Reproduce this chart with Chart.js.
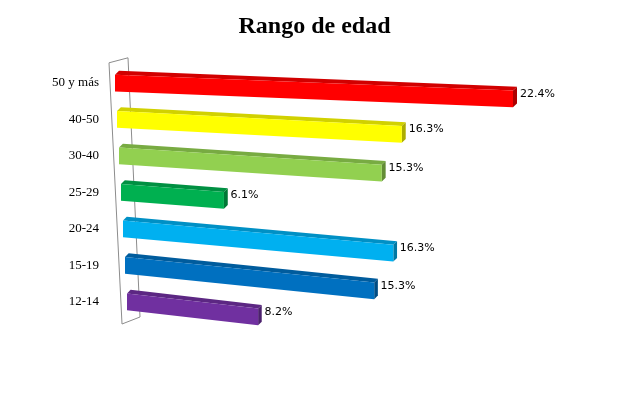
<!DOCTYPE html>
<html>
<head>
<meta charset="utf-8">
<script src="https://cdn.jsdelivr.net/npm/chart.js@4.4.0/dist/chart.umd.min.js"></script>
<style>
  html, body { margin: 0; padding: 0; background: #fff; }
  #wrap { width: 629px; height: 395px; }
</style>
</head>
<body>
<div id="wrap"><canvas id="edad" width="629" height="395"></canvas></div>
<script>
const labels = ['50 y más', '40-50', '30-40', '25-29', '20-24', '15-19', '12-14'];
const values = [22.4, 16.3, 15.3, 6.1, 16.3, 15.3, 8.2];
const colors = ['#FF0000', '#FFFF00', '#92D050', '#00B050', '#00B0F0', '#0070C0', '#7030A0'];

function shade(hex, f){
    const n = parseInt(hex.slice(1), 16);
    const r = Math.round(((n >> 16) & 255) * f);
    const g = Math.round(((n >> 8) & 255) * f);
    const b = Math.round((n & 255) * f);
    return `rgb(${r},${g},${b})`;
}

// fake 3D perspective: each bar gets its own skew, plus a top and side face
const persp = {
    id: 'persp',
    beforeDatasetsDraw(chart){
        const ctx = chart.ctx, a = chart.chartArea;
        ctx.save();
        ctx.strokeStyle = '#8c8c8c';
        ctx.lineWidth = 1;
        ctx.beginPath();
        ctx.moveTo(a.left - 6, a.top - 2);
        ctx.lineTo(a.left + 13, a.top - 7);
        ctx.lineTo(a.left + 25, a.bottom - 3);
        ctx.lineTo(a.left + 7, a.bottom + 4);
        ctx.closePath();
        ctx.stroke();
        ctx.restore();
    },
    beforeDatasetDraw(chart, args){
        const ctx = chart.ctx;
        const x0 = chart.scales.x.getPixelForValue(0);
        const n = args.meta.data.length;
        args.meta.data.forEach((bar, i) => {
            const t = i / (n - 1);
            const sx = 1 - 0.1 * t, dx = 12 * t, k = 0.04 + 0.075 * t;
            const e = x0 + dx - sx * x0, f = -k * sx * x0;
            const p = bar.getProps(['x', 'y', 'height'], true);
            const top = p.y - p.height / 2, bot = p.y + p.height / 2;
            const d = 4;
            ctx.save();
            ctx.transform(sx, k * sx, 0, 1, e, f);
            ctx.fillStyle = shade(colors[i], 0.82);
            ctx.beginPath();
            ctx.moveTo(x0, top);
            ctx.lineTo(x0 + d, top - d);
            ctx.lineTo(p.x + d, top - d);
            ctx.lineTo(p.x, top);
            ctx.closePath();
            ctx.fill();
            ctx.fillStyle = shade(colors[i], 0.68);
            ctx.beginPath();
            ctx.moveTo(p.x, top);
            ctx.lineTo(p.x + d, top - d);
            ctx.lineTo(p.x + d, bot - d);
            ctx.lineTo(p.x, bot);
            ctx.closePath();
            ctx.fill();
            bar.draw(ctx, chart.chartArea);
            ctx.restore();
            // value label at the end of the bar
            const lx = p.x + d + 3, ly = top;
            const X = sx * lx + e, Y = k * sx * lx + ly + f;
            ctx.save();
            ctx.fillStyle = '#000';
            ctx.font = '11px "DejaVu Sans", Verdana, sans-serif';
            ctx.textAlign = 'left';
            ctx.textBaseline = 'middle';
            ctx.fillText(values[i].toFixed(1) + '%', X, Y + 3);
            ctx.restore();
        });
        return false;
    }
};

new Chart(document.getElementById('edad'), {
    type: 'bar',
    data: {
        labels: labels,
        datasets: [{
            data: values,
            backgroundColor: colors,
            borderWidth: 0,
            barPercentage: 0.46,
            categoryPercentage: 1
        }]
    },
    options: {
        indexAxis: 'y',
        responsive: false,
        animation: false,
        layout: { padding: { top: 0, right: 0, bottom: 75, left: 0 } },
        plugins: {
            legend: { display: false },
            tooltip: { enabled: false },
            title: {
                display: true,
                text: 'Rango de edad',
                color: '#000',
                font: { family: '"Liberation Serif", "Times New Roman", serif', size: 24, weight: 'bold' },
                padding: { top: 12, bottom: 24 }
            }
        },
        scales: {
            x: { display: false, min: 0, max: 22.4 },
            y: {
                grid: { display: false },
                border: { display: false },
                afterFit(scale){ scale.width = 115; },
                ticks: {
                    color: '#000',
                    padding: 8,
                    font: { family: '"Liberation Serif", "Times New Roman", serif', size: 13 }
                }
            },
            yRight: {
                position: 'right',
                grid: { display: false },
                border: { display: false },
                ticks: { display: false },
                afterFit(scale){ scale.width = 116; }
            }
        }
    },
    plugins: [persp]
});
</script>
</body>
</html>
